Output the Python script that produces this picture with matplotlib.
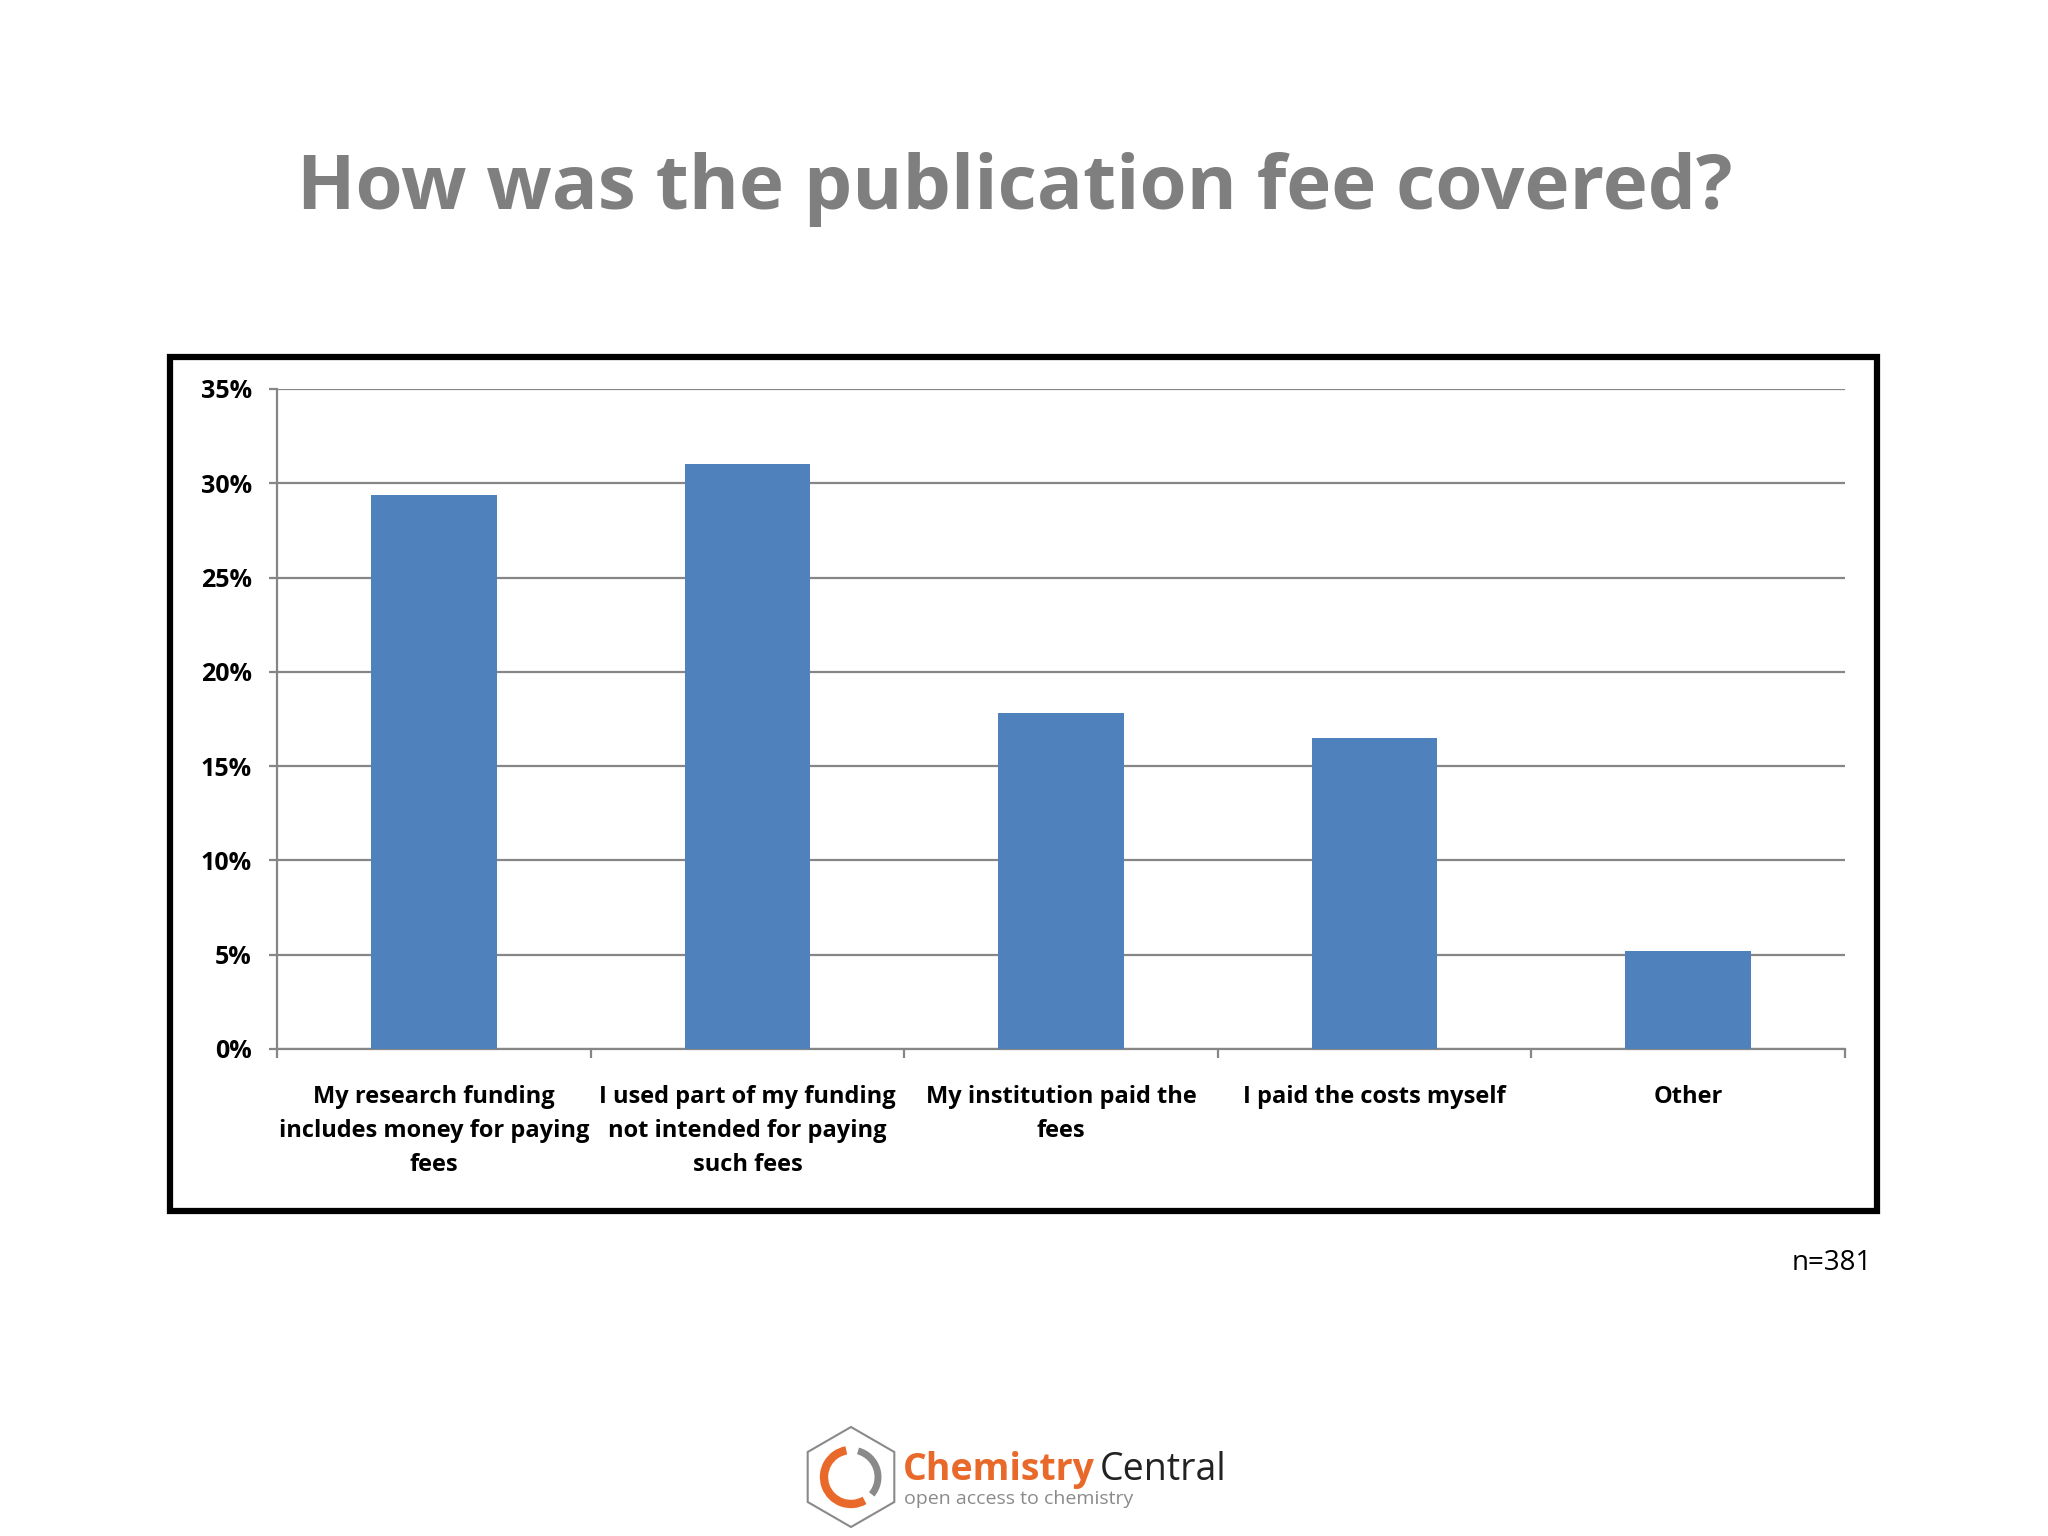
import numpy as np
import matplotlib
matplotlib.use("Agg")
import matplotlib.pyplot as plt
import matplotlib.patches as patches
from matplotlib.ticker import FixedLocator, PercentFormatter

# ── data ──────────────────────────────────────────────────────────────────────
categories = [
    "My research funding\nincludes money for paying\nfees",
    "I used part of my funding\nnot intended for paying\nsuch fees",
    "My institution paid the\nfees",
    "I paid the costs myself",
    "Other",
]
shares = [29.4, 31.0, 17.8, 16.5, 5.2]   # percent of respondents
y_ticks = [0, 5, 10, 15, 20, 25, 30, 35]
n_label = "n=381"

# ── style ─────────────────────────────────────────────────────────────────────
_BAR = "#4f81bd"
_GRID = "#868686"
_TITLE = "#7f7f7f"
_FONT = "Open Sans"

W, H = 2048, 1536
fig = plt.figure(figsize=(W / 100, H / 100), dpi=100)
fig.patch.set_facecolor("white")


def fx(px):
    return px / W


def fy(py):
    return 1 - py / H


# title
fig.text(fx(1015), fy(209), "How was the publication fee covered?",
         ha="center", va="baseline", fontsize=55, fontweight="bold",
         color=_TITLE, family=_FONT)

# thick black frame around the chart area
fig.add_artist(patches.Rectangle(
    (fx(170), fy(1211)), fx(1877 - 170), (1211 - 357) / H,
    transform=fig.transFigure, fill=False, edgecolor="black", linewidth=4.5))

# ── axes ──────────────────────────────────────────────────────────────────────
ax = fig.add_axes([fx(277), fy(1049), fx(1845 - 277), (1049 - 389) / H])
x = np.arange(len(categories))
ax.bar(x, shares, width=0.4, color=_BAR, zorder=3)

ax.set_xlim(-0.5, len(categories) - 0.5)
ax.set_ylim(0, 35)
ax.yaxis.set_major_locator(FixedLocator(y_ticks))
ax.yaxis.set_major_formatter(PercentFormatter(decimals=0))
ax.grid(axis="y", color=_GRID, linewidth=1.6, zorder=1)

for side in ("top", "right"):
    ax.spines[side].set_visible(False)
for side in ("left", "bottom"):
    ax.spines[side].set_color(_GRID)
    ax.spines[side].set_linewidth(1.6)

# category labels centred under bars, tick marks on boundaries
ax.set_xticks(x)
ax.set_xticklabels(categories, fontsize=17, fontweight="bold", family=_FONT,
                   linespacing=1.55, va="top")
ax.tick_params(axis="x", length=0, pad=26)
ax.set_xticks(np.arange(-0.5, len(categories)), minor=True)
ax.tick_params(axis="x", which="minor", length=6.5, width=1.6, color=_GRID,
               direction="out")
ax.tick_params(axis="y", length=6, width=1.6, color=_GRID, pad=12,
               labelsize=18)
for lbl in ax.get_yticklabels():
    lbl.set_fontweight("bold")
    lbl.set_family(_FONT)

# sample size note
fig.text(fx(1872), fy(1270), n_label, ha="right", va="baseline",
         fontsize=20, family=_FONT, color="black")

# ── logo ──────────────────────────────────────────────────────────────────────
cx, cy = 851, H - 1477
fig.add_artist(patches.RegularPolygon(
    (cx, cy), 6, radius=50, orientation=0, transform=None,
    fill=False, edgecolor="#8a8a8a", linewidth=1.5))
fig.add_artist(patches.Arc((cx, cy), 54, 54, theta1=100, theta2=300,
                           transform=None, color="#e8692a", linewidth=6))
fig.add_artist(patches.Arc((cx, cy), 54, 54, theta1=-40, theta2=75,
                           transform=None, color="#8a8a8a", linewidth=5))
fig.text(fx(903), fy(1480), "Chemistry", ha="left", va="baseline",
         fontsize=27, fontweight="bold", color="#e8692a", family=_FONT)
fig.text(fx(1100), fy(1480), "Central", ha="left", va="baseline",
         fontsize=27, color="#222222", family=_FONT)
fig.text(fx(904), fy(1504), "open access to chemistry", ha="left",
         va="baseline", fontsize=14, color="#8a8a8a", family=_FONT)

plt.savefig("out.png", dpi=100)
plt.close(fig)
